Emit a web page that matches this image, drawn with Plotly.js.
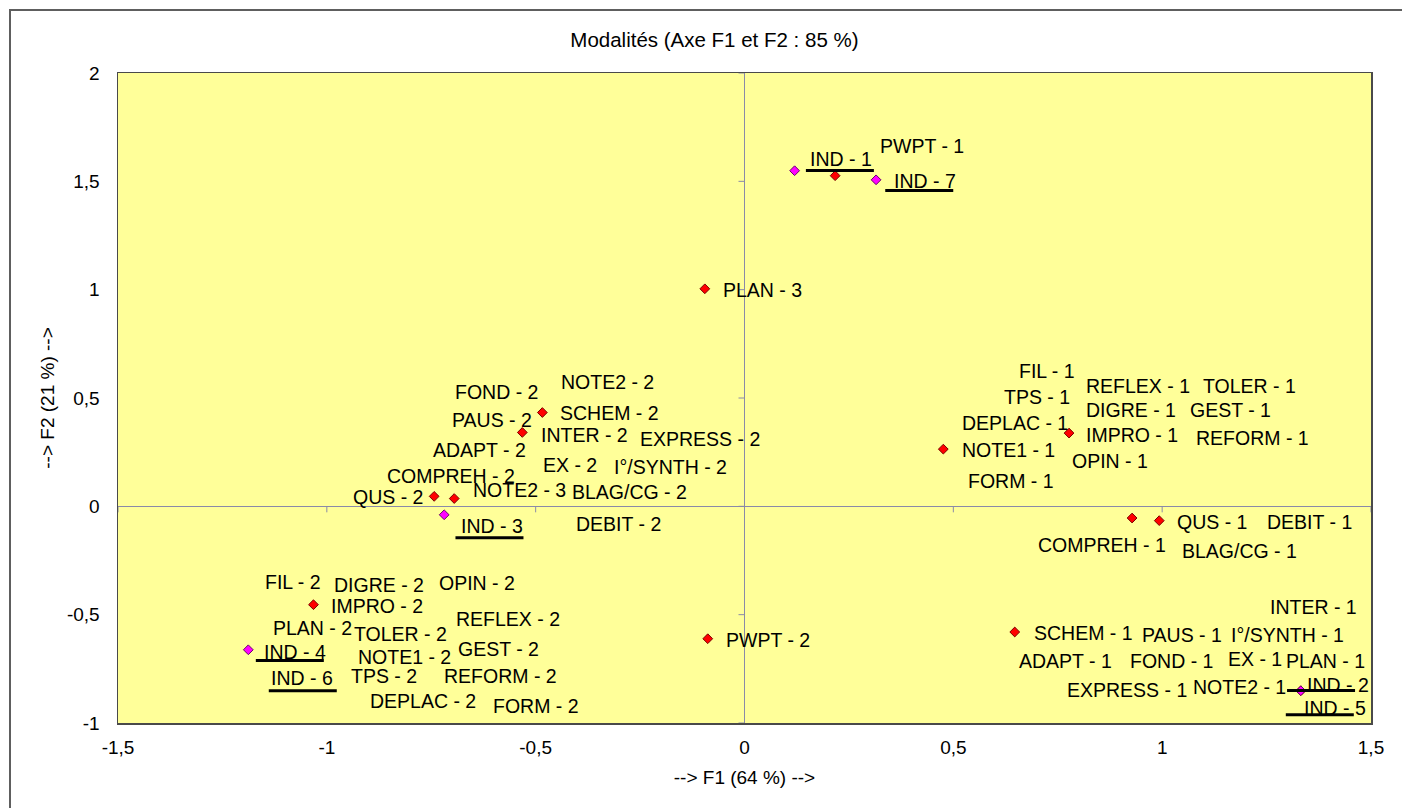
<!DOCTYPE html>
<html>
<head>
<meta charset="utf-8">
<script src="https://cdn.plot.ly/plotly-3.0.1.min.js"></script>
<style>
  html, body { margin:0; padding:0; background:#fff; overflow:hidden; }
  #wrap { position:relative; width:1402px; height:808px; }
  #chart { position:absolute; left:0; top:0; width:1402px; height:808px; }
  #frame { position:absolute; left:9px; top:9px; width:1500px; height:1000px; border:2px solid #5e5e5e; pointer-events:none; }
</style>
</head>
<body>
<div id="wrap">
  <div id="chart"></div>
  <div id="frame"></div>
</div>
<script>
// ---- Data ----
// Modalities (red diamonds)
const modX = [-0.484, -0.532, -0.743, -0.695, -0.095, 0.217, 0.476, 0.777, 0.928, 0.993, 0.647, 1.332, -1.032, -0.088];
const modY = [0.433, 0.341, 0.046, 0.036, 1.004, 1.526, 0.264, 0.338, -0.054, -0.066, -0.580, -0.851, -0.454, -0.611];

// Individuals (magenta diamonds)
const indX = [0.120, 0.315, -0.719, -1.188, 1.332];
const indY = [1.549, 1.507, -0.039, -0.662, -0.851];

// Labels (text, left position, vertical centre in data units)
const labelText = [
  "IND - 1", "PWPT - 1", "IND - 7", "PLAN - 3",
  "NOTE2 - 2", "FOND - 2", "SCHEM - 2", "PAUS - 2", "INTER - 2", "EXPRESS - 2", "ADAPT - 2",
  "EX - 2", "I°/SYNTH - 2", "COMPREH - 2", "NOTE2 - 3", "BLAG/CG - 2", "QUS - 2", "IND - 3", "DEBIT - 2",
  "FIL - 1", "REFLEX - 1", "TOLER - 1", "TPS - 1", "DIGRE - 1", "GEST - 1", "DEPLAC - 1", "IMPRO - 1",
  "REFORM - 1", "NOTE1 - 1", "OPIN - 1", "FORM - 1", "QUS - 1", "DEBIT - 1", "COMPREH - 1", "BLAG/CG - 1",
  "FIL - 2", "DIGRE - 2", "OPIN - 2", "IMPRO - 2", "REFLEX - 2", "PLAN - 2", "TOLER - 2", "GEST - 2",
  "IND - 4", "NOTE1 - 2", "IND - 6", "TPS - 2", "REFORM - 2", "DEPLAC - 2", "FORM - 2",
  "INTER - 1", "SCHEM - 1", "PAUS - 1", "I°/SYNTH - 1", "ADAPT - 1", "FOND - 1", "EX - 1", "PLAN - 1",
  "EXPRESS - 1", "NOTE2 - 1", "IND - 2", "IND - 5",
  "PWPT - 2"
];
const labelX = [
  0.154, 0.322, 0.355, -0.054,
  -0.442, -0.696, -0.444, -0.703, -0.490, -0.253, -0.749,
  -0.485, -0.315, -0.859, -0.653, -0.416, -0.940, -0.681, -0.406,
  0.655, 0.815, 1.095, 0.619, 0.815, 1.064, 0.518, 0.815,
  1.078, 0.518, 0.782, 0.533, 1.033, 1.248, 0.700, 1.045,
  -1.151, -0.986, -0.734, -0.993, -0.694, -1.132, -0.938, -0.689,
  -1.153, -0.928, -1.136, -0.945, -0.722, -0.900, -0.605,
  1.256, 0.690, 0.949, 1.162, 0.655, 0.920, 1.155, 1.294,
  0.770, 1.071, 1.344, 1.337,
  -0.047
];
const labelY = [
  1.604, 1.664, 1.502, 0.999,
  0.576, 0.529, 0.432, 0.400, 0.330, 0.312, 0.261,
  0.192, 0.183, 0.141, 0.077, 0.067, 0.044, -0.090, -0.081,
  0.623, 0.557, 0.557, 0.503, 0.443, 0.443, 0.386, 0.330,
  0.316, 0.261, 0.210, 0.118, -0.070, -0.070, -0.177, -0.208,
  -0.347, -0.362, -0.353, -0.459, -0.519, -0.560, -0.588, -0.657,
  -0.671, -0.697, -0.791, -0.785, -0.785, -0.900, -0.920,
  -0.463, -0.583, -0.593, -0.593, -0.713, -0.713, -0.703, -0.713,
  -0.847, -0.833, -0.824, -0.929,
  -0.616
];

// Underline bars under the individual labels (left end, height in data units)
const barX = [0.147, 0.337, -0.692, -1.170, -1.139, 1.299, 1.296];
const barY = [1.550, 1.458, -0.145, -0.711, -0.851, -0.850, -0.962];

// Axes
const xTickVals = [-1.5, -1, -0.5, 0, 0.5, 1, 1.5];
const xTickText = ["-1,5", "-1", "-0,5", "0", "0,5", "1", "1,5"];
const yTickVals = [-1, -0.5, 0, 0.5, 1, 1.5, 2];
const yTickText = ["-1", "-0,5", "0", "0,5", "1", "1,5", "2"];

// ---- Drawing ----
const FONT = "Arial, 'Liberation Sans', sans-serif";
const axisColor = "#8a8aa8";

const traces = [
  {
    type: "scatter", mode: "markers", x: modX, y: modY, hoverinfo: "skip", showlegend: false,
    marker: { symbol: "diamond", size: 7.5, color: "#FF0000", line: { color: "#7a0000", width: 1 } }
  },
  {
    type: "scatter", mode: "markers", x: indX, y: indY, hoverinfo: "skip", showlegend: false,
    marker: { symbol: "diamond", size: 7.5, color: "#FF00FF", line: { color: "#6a006a", width: 1 } }
  }
];

const annotations = labelText.map((t, i) => ({
  x: labelX[i], y: labelY[i], xref: "x", yref: "y", text: t, showarrow: false,
  xanchor: "left", yanchor: "middle", borderpad: 0,
  font: { family: FONT, size: 19.5, color: "#000" }
}));

const shapes = [];
// zero-line tick marks
xTickVals.forEach(v => shapes.push({
  type: "line", xref: "x", yref: "y", ysizemode: "pixel", yanchor: 0, y0: 0, y1: -6,
  x0: v, x1: v, line: { color: axisColor, width: 1 }, layer: "above"
}));
yTickVals.forEach(v => shapes.push({
  type: "line", xref: "x", yref: "y", xsizemode: "pixel", xanchor: 0, x0: 0, x1: -6,
  y0: v, y1: v, line: { color: axisColor, width: 1 }, layer: "above"
}));
// underline bars
barX.forEach((bx, i) => shapes.push({
  type: "line", xref: "x", yref: "y", xsizemode: "pixel", xanchor: bx, x0: 0, x1: 68,
  y0: barY[i], y1: barY[i], line: { color: "#000", width: 3 }, layer: "above"
}));

const layout = {
  width: 1402, height: 808,
  margin: { l: 118, r: 31, t: 73, b: 85 },
  paper_bgcolor: "#ffffff",
  plot_bgcolor: "#FFFF99",
  separators: ", ",
  showlegend: false,
  font: { family: FONT, color: "#000" },
  title: {
    text: "Modalités (Axe F1 et F2 : 85 %)",
    font: { family: FONT, size: 20.5, color: "#000" },
    xref: "container", yref: "container", x: 0.5096, y: 0.9505, xanchor: "center", yanchor: "middle"
  },
  xaxis: {
    range: [-1.5, 1.5], tickvals: xTickVals, ticktext: xTickText,
    showgrid: false, zeroline: true, zerolinecolor: axisColor, zerolinewidth: 1,
    showline: true, mirror: true, linecolor: "#4a4a4a", linewidth: 1.5,
    ticks: "outside", ticklen: 7, tickcolor: "rgba(0,0,0,0)",
    tickfont: { family: FONT, size: 19, color: "#000" },
    title: { text: "--> F1 (64 %) -->", font: { family: FONT, size: 19, color: "#000" }, standoff: 13 },
    fixedrange: true
  },
  yaxis: {
    range: [-1, 2], tickvals: yTickVals, ticktext: yTickText,
    showgrid: false, zeroline: true, zerolinecolor: axisColor, zerolinewidth: 1,
    showline: true, mirror: true, linecolor: "#4a4a4a", linewidth: 1.5,
    ticks: "outside", ticklen: 13, tickcolor: "rgba(0,0,0,0)",
    tickfont: { family: FONT, size: 19, color: "#000" },
    title: { text: "--> F2 (21 %) -->", font: { family: FONT, size: 19, color: "#000" }, standoff: 7 },
    fixedrange: true
  },
  annotations: annotations,
  shapes: shapes
};

Plotly.newPlot("chart", traces, layout, { displayModeBar: false, staticPlot: true });
</script>
</body>
</html>
